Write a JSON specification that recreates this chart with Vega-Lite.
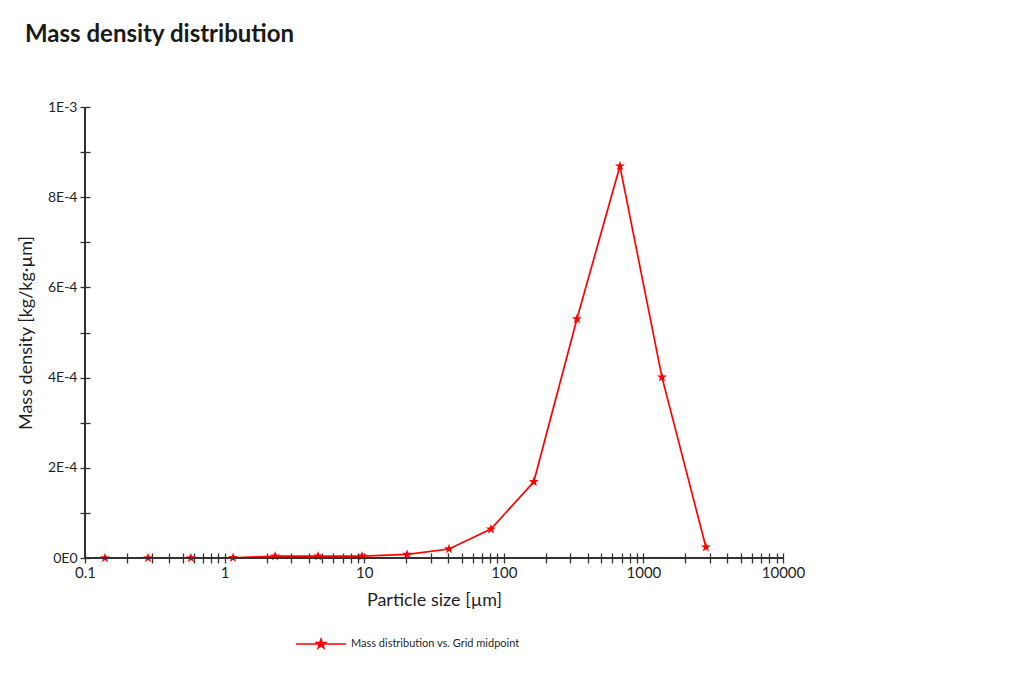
{
  "$schema": "https://vega.github.io/schema/vega-lite/v6.json",
  "autosize": "none",
  "width": 698,
  "height": 451,
  "padding": {"left": 85, "top": 107, "right": 243, "bottom": 123},
  "background": "white",
  "config": {"view": {"stroke": null}, "font": "Lato"},
  "title": {
    "text": "Mass density distribution",
    "anchor": "start",
    "frame": "group",
    "dx": -60,
    "offset": 53,
    "fontSize": 24,
    "fontWeight": "bold",
    "font": "Lato",
    "color": "#1a1a1a"
  },
  "data": {
    "values": [
      {"size": 0.139, "density": 0, "series": "Mass distribution vs. Grid midpoint"},
      {"size": 0.283, "density": 0, "series": "Mass distribution vs. Grid midpoint"},
      {"size": 0.574, "density": 0, "series": "Mass distribution vs. Grid midpoint"},
      {"size": 1.15, "density": 0.0000005, "series": "Mass distribution vs. Grid midpoint"},
      {"size": 2.3, "density": 0.000004, "series": "Mass distribution vs. Grid midpoint"},
      {"size": 4.67, "density": 0.000004, "series": "Mass distribution vs. Grid midpoint"},
      {"size": 9.65, "density": 0.000004, "series": "Mass distribution vs. Grid midpoint"},
      {"size": 20.3, "density": 0.000008, "series": "Mass distribution vs. Grid midpoint"},
      {"size": 40.5, "density": 0.00002, "series": "Mass distribution vs. Grid midpoint"},
      {"size": 80.9, "density": 0.000064, "series": "Mass distribution vs. Grid midpoint"},
      {"size": 164, "density": 0.000169, "series": "Mass distribution vs. Grid midpoint"},
      {"size": 334, "density": 0.00053, "series": "Mass distribution vs. Grid midpoint"},
      {"size": 679, "density": 0.000869, "series": "Mass distribution vs. Grid midpoint"},
      {"size": 1358, "density": 0.000401, "series": "Mass distribution vs. Grid midpoint"},
      {"size": 2805, "density": 0.000024, "series": "Mass distribution vs. Grid midpoint"}
    ]
  },
  "layer": [
    {
      "mark": {"type": "line", "strokeWidth": 1.7},
      "encoding": {
        "x": {
          "field": "size",
          "type": "quantitative",
          "scale": {"type": "log", "domain": [0.1, 10000], "nice": false},
          "axis": {
            "title": "Particle size [µm]",
            "values": [0.1,0.2,0.3,0.4,0.5,0.6,0.7,0.8,0.9,1,2,3,4,5,6,7,8,9,10,20,30,40,50,60,70,80,90,100,200,300,400,500,600,700,800,900,1000,2000,3000,4000,5000,6000,7000,8000,9000,10000],
            "labelExpr": "abs(log(datum.value)/LN10 - round(log(datum.value)/LN10)) < 0.000001 ? format(datum.value, '~g') : ''",
            "domain": false,
            "offset": -5,
            "tickSize": 10,
            "tickColor": "#333333",
            "tickWidth": 1.3,
            "labelPadding": 2,
            "labelFontSize": 15,
            "labelColor": "#1f1f1f",
            "labelFont": "Lato",
            "labelOverlap": false,
            "labelFlush": false,
            "titleFontSize": 18,
            "titleFontWeight": "normal",
            "titleColor": "#1f1f1f",
            "titleFont": "Lato",
            "titlePadding": 11,
            "grid": false
          }
        },
        "y": {
          "field": "density",
          "type": "quantitative",
          "scale": {"domain": [0, 0.001], "nice": false},
          "axis": {
            "title": "Mass density [kg/kg·µm]",
            "values": [0,0.0001,0.0002,0.0003,0.0004,0.0005,0.0006,0.0007,0.0008,0.0009,0.001],
            "labelExpr": "round(datum.value*10000) == 0 ? '0E0' : (round(datum.value*10000) == 10 ? '1E-3' : (round(datum.value*10000) % 2 == 0 ? round(datum.value*10000) + 'E-4' : ''))",
            "domain": false,
            "offset": -5,
            "tickSize": 10,
            "tickColor": "#333333",
            "tickWidth": 1.3,
            "labelPadding": 3,
            "labelFontSize": 14,
            "labelColor": "#1f1f1f",
            "labelFont": "Lato",
            "labelOverlap": false,
            "labelFlush": false,
            "titleFontSize": 18,
            "titleFontWeight": "normal",
            "titleColor": "#1f1f1f",
            "titleFont": "Lato",
            "titlePadding": 12,
            "grid": false
          }
        },
        "color": {
          "field": "series",
          "type": "nominal",
          "scale": {"range": ["#ff0000"]},
          "legend": {
            "title": null,
            "orient": "none",
            "legendX": 210,
            "legendY": 511,
            "padding": 0,
            "symbolType": "M-1,0L1,0M0,-0.2L0.047,-0.065L0.19,-0.062L0.076,0.025L0.118,0.162L0,0.08L-0.118,0.162L-0.076,0.025L-0.19,-0.062L-0.047,-0.065Z",
            "symbolSize": 2500,
            "symbolStrokeWidth": 1.5,
            "labelFontSize": 11,
            "labelFont": "Lato",
            "labelColor": "#1f1f1f",
            "labelOffset": 4,
            "labelLimit": 0,
            "encode": {"symbols": {"update": {"fill": {"value": "#ff0000"}, "stroke": {"value": "#ff0000"}, "opacity": {"value": 1}}}}
          }
        }
      }
    },
    {
      "mark": {"type": "point", "shape": "M0,-1L0.235,-0.324L0.951,-0.309L0.38,0.124L0.588,0.809L0,0.4L-0.588,0.809L-0.38,0.124L-0.951,-0.309L-0.235,-0.324Z", "size": 110, "filled": true, "color": "#ff0000", "opacity": 1},
      "encoding": {
        "x": {"field": "size", "type": "quantitative"},
        "y": {"field": "density", "type": "quantitative"}
      }
    },
    {
      "mark": {"type": "rule", "color": "#333333", "strokeWidth": 1.5},
      "encoding": {"x": {"datum": 0.1, "type": "quantitative"}}
    },
    {
      "mark": {"type": "rule", "color": "#333333", "strokeWidth": 1.5},
      "encoding": {"y": {"datum": 0, "type": "quantitative"}}
    }
  ]
}
